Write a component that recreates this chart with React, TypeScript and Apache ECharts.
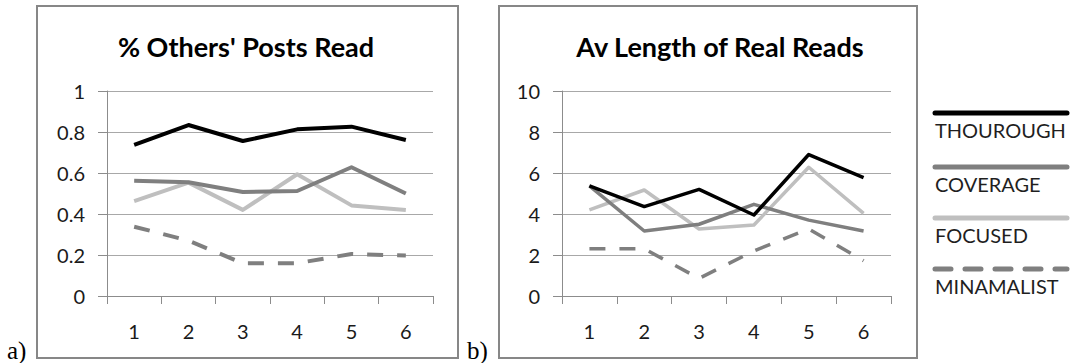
import React, { useEffect, useRef } from "react";
import * as echarts from "echarts";

const categories = ["1", "2", "3", "4", "5", "6"];
const seriesNames = ["THOUROUGH", "COVERAGE", "FOCUSED", "MINAMALIST"];

// Chart a: % Others' Posts Read
const aThorough = [0.737, 0.834, 0.756, 0.813, 0.826, 0.761];
const aCoverage = [0.562, 0.555, 0.507, 0.512, 0.628, 0.5];
const aFocused = [0.463, 0.553, 0.42, 0.594, 0.442, 0.42];
const aMinimalist = [0.338, 0.27, 0.16, 0.16, 0.205, 0.197];

// Chart b: Av Length of Real Reads
const bThorough = [5.37, 4.36, 5.2, 3.95, 6.9, 5.77];
const bCoverage = [5.37, 3.17, 3.5, 4.47, 3.7, 3.17];
const bFocused = [4.2, 5.17, 3.27, 3.46, 6.28, 4.03];
const bMinimalist = [2.3, 2.3, 0.86, 2.2, 3.27, 1.72];

const titleA = "% Others' Posts Read";
const titleB = "Av Length of Real Reads";

const colors = ["#000000", "#7f7f7f", "#bfbfbf", "#7f7f7f"];
const FONT = "Lato";

export default function App() {
  const ref = useRef<HTMLDivElement>(null);
  useEffect(() => {
    if (!ref.current) return;
    const chart = echarts.init(ref.current, undefined, { renderer: "svg" });

    const xAxisBase = (gridIndex: number) => ({
      type: "category" as const,
      gridIndex,
      data: categories,
      boundaryGap: true,
      axisLine: { show: true, lineStyle: { color: "#8c8c8c", width: 1 } },
      axisTick: { show: true, length: 8, lineStyle: { color: "#8c8c8c" } },
      axisLabel: { color: "#1a1a1a", fontFamily: FONT, fontSize: 20, margin: 25 },
      splitLine: { show: false },
    });
    const yAxisBase = (gridIndex: number, max: number, interval: number) => ({
      type: "value" as const,
      gridIndex,
      min: 0,
      max,
      interval,
      axisLine: { show: true, lineStyle: { color: "#8c8c8c", width: 1 } },
      axisTick: { show: true, length: 9, lineStyle: { color: "#8c8c8c" } },
      axisLabel: { color: "#1a1a1a", fontFamily: FONT, fontSize: 20, margin: 22 },
      splitLine: { show: true, lineStyle: { color: "#a8a8a8", width: 1 } },
    });

    const mk = (name: string, data: number[], idx: number, axis: number, width: number) => ({
      type: "line" as const,
      name,
      data,
      xAxisIndex: axis,
      yAxisIndex: axis,
      symbol: "none",
      lineStyle: {
        color: colors[idx],
        width,
        type: idx === 3 ? [16, 14] : "solid",
        cap: "butt",
        join: "round",
      },
      z: 10 - idx,
    });

    const legendGraphics: any[] = [];
    const legendY = [113, 167, 218, 269];
    seriesNames.forEach((n, i) => {
      legendGraphics.push({
        type: "line",
        shape: { x1: 935, y1: legendY[i], x2: 1067, y2: legendY[i] },
        style: {
          stroke: colors[i],
          lineWidth: 5,
          lineDash: i === 3 ? [16, 14] : null,
          lineCap: "round",
        },
      });
      legendGraphics.push({
        type: "text",
        x: 935,
        y: legendY[i] + 17,
        style: {
          text: n,
          fill: "#1f1f1f",
          font: `20px ${FONT}`,
          textAlign: "left",
          textVerticalAlign: "middle",
        },
      });
    });

    chart.setOption({
      animation: false,
      backgroundColor: "#ffffff",
      grid: [
        { left: 107, top: 91, width: 326, height: 205 },
        { left: 562, top: 91, width: 329, height: 205 },
      ],
      xAxis: [xAxisBase(0), xAxisBase(1)],
      yAxis: [yAxisBase(0, 1, 0.2), yAxisBase(1, 10, 2)],
      series: [
        mk(seriesNames[0], aThorough, 0, 0, 4),
        mk(seriesNames[1], aCoverage, 1, 0, 4),
        mk(seriesNames[2], aFocused, 2, 0, 4),
        mk(seriesNames[3], aMinimalist, 3, 0, 4),
        mk(seriesNames[0], bThorough, 0, 1, 3.5),
        mk(seriesNames[1], bCoverage, 1, 1, 3.5),
        mk(seriesNames[2], bFocused, 2, 1, 3.5),
        mk(seriesNames[3], bMinimalist, 3, 1, 3.5),
      ],
      graphic: [
        {
          type: "rect",
          shape: { x: 37, y: 6, width: 421, height: 352 },
          style: { fill: "none", stroke: "#878787", lineWidth: 2 },
          z: -1,
        },
        {
          type: "rect",
          shape: { x: 499, y: 6, width: 418, height: 352 },
          style: { fill: "none", stroke: "#878787", lineWidth: 2 },
          z: -1,
        },
        {
          type: "text",
          x: 246,
          y: 46,
          style: {
            text: titleA,
            fill: "#000",
            font: `bold 27px ${FONT}`,
            textAlign: "center",
            textVerticalAlign: "middle",
          },
        },
        {
          type: "text",
          x: 720,
          y: 46,
          style: {
            text: titleB,
            fill: "#000",
            font: `bold 27px ${FONT}`,
            textAlign: "center",
            textVerticalAlign: "middle",
          },
        },
        {
          type: "text",
          x: 7,
          y: 363,
          style: {
            text: "a)",
            fill: "#000",
            font: `25px "Liberation Serif"`,
            textAlign: "left",
            textVerticalAlign: "bottom",
          },
        },
        {
          type: "text",
          x: 467,
          y: 363,
          style: {
            text: "b)",
            fill: "#000",
            font: `25px "Liberation Serif"`,
            textAlign: "left",
            textVerticalAlign: "bottom",
          },
        },
        ...legendGraphics,
      ],
    });
    return () => chart.dispose();
  }, []);
  return (
    <div
      ref={ref}
      style={{ position: "fixed", left: 0, top: 0, width: 1077, height: 363, background: "#fff" }}
    />
  );
}
